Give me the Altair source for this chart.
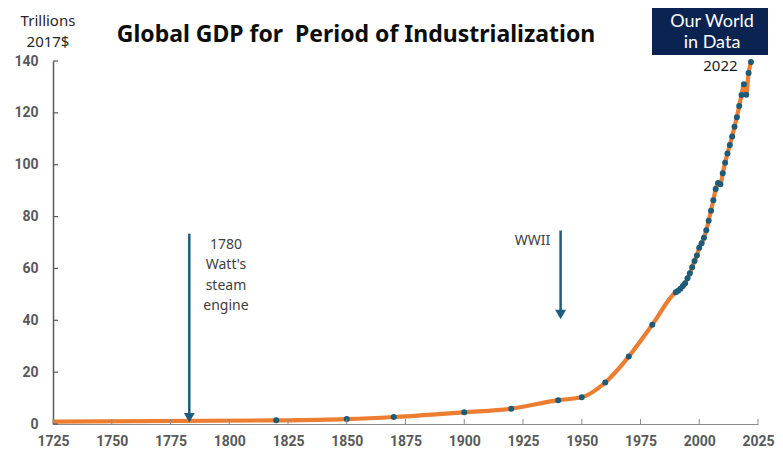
import altair as alt
import pandas as pd

# ---- data ----
years = [1700, 1820, 1850, 1870, 1900, 1920, 1940, 1950, 1960, 1970, 1980, 1990,
         1991, 1992, 1993, 1994, 1995, 1996, 1997, 1998, 1999, 2000,
         2001, 2002, 2003, 2004, 2005, 2006, 2007, 2008, 2009, 2010,
         2011, 2012, 2013, 2014, 2015, 2016, 2017, 2018, 2019, 2020, 2021, 2022]
gdp = [0.8, 1.4, 1.9, 2.7, 4.5, 5.9, 9.2, 10.3, 16.0, 26.0, 38.3, 50.8,
       51.4, 52.2, 53.2, 54.3, 56.2, 58.1, 60.5, 62.9, 65.0, 68.0,
       69.7, 71.8, 74.7, 78.4, 82.2, 86.3, 90.6, 92.9, 92.5, 96.7,
       100.8, 104.3, 107.6, 110.9, 114.6, 118.3, 122.6, 126.9, 131.0, 127.0, 135.4, 139.6]

x_ticks = [1725, 1750, 1775, 1800, 1825, 1850, 1875, 1900, 1925, 1950, 1975, 2000, 2025]
y_ticks = [0, 20, 40, 60, 80, 100, 120, 140]

arrow_year = [1783, 1941]
arrow_top = [73.4, 74.6]
arrow_head = [2.4, 42.2]

note_text = ["1780\nWatt's\nsteam\nengine", "WWII"]
note_year = [1798.6, 1929]
note_val = [69.2, 70.7]

year_label = ["2022"]
year_label_x = [2009.0]
year_label_y = [138.1]

df = pd.DataFrame({"year": years, "gdp": gdp})
dots = df[df["year"] >= 1725]
arrows = pd.DataFrame({"year": arrow_year, "top": arrow_top, "head": arrow_head})
notes = pd.DataFrame({"text": note_text, "year": note_year, "val": note_val})
lab = pd.DataFrame({"text": year_label, "year": year_label_x, "val": year_label_y})
xt = pd.DataFrame({"t": x_ticks})
yt = pd.DataFrame({"t": y_ticks})

W, H = 705, 363
xs = alt.Scale(domain=[1725, 2025], nice=False, zero=False)
ys = alt.Scale(domain=[0, 140], nice=False)

LABEL_FONT = "Roboto"
x_axis = alt.Axis(values=x_ticks, format="d", ticks=False, grid=False,
                  domainColor="#8c8c8c", domainWidth=1,
                  labelFont=LABEL_FONT, labelFontWeight="bold", labelFontSize=14,
                  labelColor="#595959", labelPadding=10, title=None, labelFlush=False)
y_axis = alt.Axis(values=y_ticks, ticks=False, grid=False,
                  domainColor="#595959", domainWidth=1.5,
                  labelFont=LABEL_FONT, labelFontWeight="bold", labelFontSize=14,
                  labelColor="#595959", labelPadding=15, title=None)

line = alt.Chart(df).mark_line(color="#ED7D31", strokeWidth=4.2, interpolate="monotone", clip=True).encode(
    x=alt.X("year:Q", scale=xs, axis=x_axis),
    y=alt.Y("gdp:Q", scale=ys, axis=y_axis),
)
pts = alt.Chart(dots).mark_circle(color="#1e5b78", size=36, opacity=1).encode(
    x=alt.X("year:Q", scale=xs), y=alt.Y("gdp:Q", scale=ys)
)

xtick = alt.Chart(xt).mark_rule(color="#8c8c8c", strokeWidth=1).encode(
    x=alt.X("t:Q", scale=xs), y=alt.value(H), y2=alt.value(H - 5)
)
ytick = alt.Chart(yt).mark_rule(color="#595959", strokeWidth=1.2).encode(
    y=alt.Y("t:Q", scale=ys), x=alt.value(0), x2=alt.value(5)
)

shaft = alt.Chart(arrows).mark_rule(color="#1f5c80", strokeWidth=2.5).encode(
    x=alt.X("year:Q", scale=xs), y=alt.Y("top:Q", scale=ys), y2="head:Q"
)
head = alt.Chart(arrows).mark_point(shape="triangle-down", filled=True, size=120,
                                    color="#1f5c80", opacity=1).encode(
    x=alt.X("year:Q", scale=xs), y=alt.Y("head:Q", scale=ys)
)

note = alt.Chart(notes).mark_text(font="Noto Sans", fontSize=14, color="#404040",
                                  align="center", baseline="middle", lineBreak="\n",
                                  lineHeight=20.5).encode(
    x=alt.X("year:Q", scale=xs), y=alt.Y("val:Q", scale=ys), text="text:N"
)
yl = alt.Chart(lab).mark_text(font="Noto Sans", fontSize=15, color="#1a1a1a",
                              align="center", baseline="middle").encode(
    x=alt.X("year:Q", scale=xs), y=alt.Y("val:Q", scale=ys), text="text:N"
)

one = pd.DataFrame({"k": [0]})
title = alt.Chart(one).mark_text(text="Global GDP for\u00a0 Period of Industrialization",
                                 font="Noto Sans", fontWeight="bold", fontSize=23, color="#0d0d0d",
                                 align="center", baseline="alphabetic").encode(
    x=alt.value(303), y=alt.value(-19)
)
ytitle = alt.Chart(one).mark_text(text="Trillions\n2017$", lineBreak="\n", lineHeight=21,
                                  font="Noto Sans", fontSize=15, color="#262626",
                                  align="center", baseline="middle").encode(
    x=alt.value(-5), y=alt.value(-40)
)
logo_box = alt.Chart(one).mark_rect(color="#0b2350").encode(
    x=alt.value(599), x2=alt.value(715), y=alt.value(-53), y2=alt.value(-6)
)
logo_text = alt.Chart(one).mark_text(text="Our World\nin Data", lineBreak="\n", lineHeight=21,
                                     font="Lato", fontSize=18, color="#ffffff",
                                     align="center", baseline="middle").encode(
    x=alt.value(659), y=alt.value(-39)
)

chart = alt.layer(
    line, pts, xtick, ytick, shaft, head, note, yl, title, ytitle, logo_box, logo_text
).properties(
    width=W, height=H,
    autosize=alt.AutoSizeParams(type="none"),
    padding={"left": 45, "top": 53, "right": 17, "bottom": 24},
    background="white",
).configure_view(stroke=None)

chart.save("out.html", embed_options={"renderer": "svg", "actions": False})
